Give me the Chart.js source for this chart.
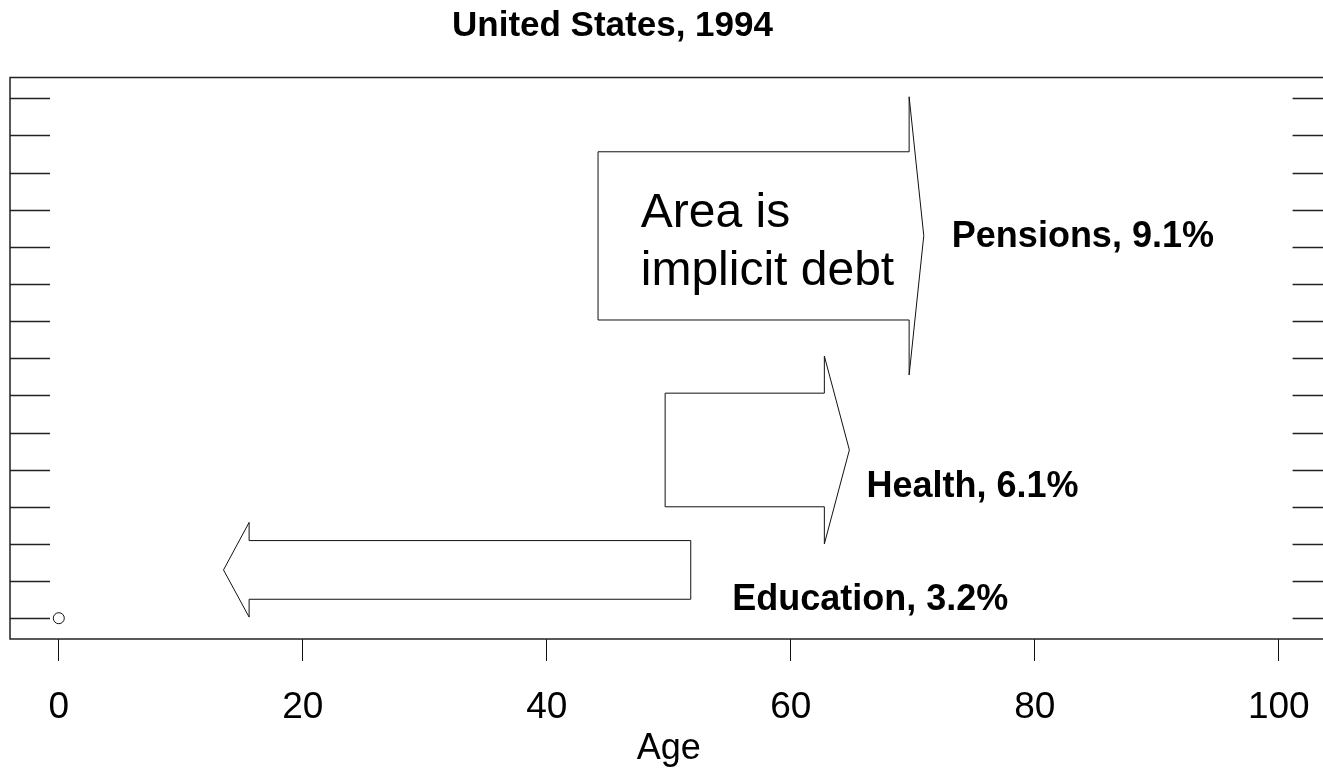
<!DOCTYPE html>
<html>
<head>
<meta charset="utf-8">
<script src="https://cdn.jsdelivr.net/npm/chart.js@4.4.1/dist/chart.umd.min.js"></script>
<style>
    html, body { margin: 0; padding: 0; background: #fff; overflow: hidden; }
    #wrap { width: 1340px; height: 772px; }
</style>
</head>
<body>
<div id="wrap"><canvas id="chart"></canvas></div>
<script>
// axis ticks
var ageTicks = [0, 20, 40, 60, 80, 100];
var rowTicks = [0, 1, 2, 3, 4, 5, 6, 7, 8, 9, 10, 11, 12, 13, 14];

// arrow outlines (age, row)
var pensionsX = [44.2, 69.7, 69.7, 70.9, 69.7, 69.7, 44.2, 44.2];
var pensionsY = [12.56, 12.56, 14.04, 10.3, 6.55, 8.03, 8.03, 12.56];
var healthX = [49.7, 62.75, 62.75, 64.8, 62.75, 62.75, 49.7, 49.7];
var healthY = [6.06, 6.06, 7.06, 4.53, 2.0, 3.0, 3.0, 6.06];
var educationX = [51.8, 15.6, 15.6, 13.5, 15.6, 15.6, 51.8, 51.8];
var educationY = [2.09, 2.09, 2.58, 1.3, 0.03, 0.51, 0.51, 2.09];

// the lone point
var pointX = [0];
var pointY = [0];

var labels = ['Pensions, 9.1%', 'Health, 6.1%', 'Education, 3.2%'];
var noteLines = ['Area is', 'implicit debt'];

var FONT = '"Liberation Sans", Arial, sans-serif';

function toPoints(xs, ys) {
    var pts = [];
    for (var i = 0; i < xs.length; i++) {
        pts.push({x: xs[i], y: ys[i]});
    }
    return pts;
}

function arrowSet(xs, ys) {
    return {
        data: toPoints(xs, ys),
        showLine: true,
        borderColor: '#111',
        borderWidth: 1,
        pointRadius: 0,
        fill: false,
        tension: 0
    };
}

// frame plus inward ticks on both sides
var framePlugin = {
    id: 'frame',
    beforeDatasetsDraw: function(chart) {
        var ctx = chart.ctx;
        var a = chart.chartArea;
        var ys = chart.scales.y;
        ctx.save();
        ctx.strokeStyle = '#222';
        ctx.lineWidth = 1.5;
        ctx.strokeRect(a.left, a.top, a.right - a.left, a.bottom - a.top);
        for (var i = 0; i < rowTicks.length; i++) {
            var py = Math.round(ys.getPixelForValue(rowTicks[i])) + 0.5;
            ctx.beginPath();
            ctx.moveTo(a.left, py);
            ctx.lineTo(a.left + 40, py);
            ctx.moveTo(a.right - 35, py);
            ctx.lineTo(a.right, py);
            ctx.stroke();
        }
        ctx.restore();
    }
};

// title and annotations
var textPlugin = {
    id: 'texts',
    afterDraw: function(chart) {
        var ctx = chart.ctx;
        var xs = chart.scales.x;
        var ys = chart.scales.y;
        ctx.save();
        ctx.fillStyle = '#000';
        ctx.textAlign = 'left';
        ctx.textBaseline = 'alphabetic';

        ctx.font = 'bold 35px ' + FONT;
        ctx.fillText('United States, 1994', 452, 36);

        ctx.font = 'bold 36px ' + FONT;
        ctx.fillText(labels[0], xs.getPixelForValue(73.2), ys.getPixelForValue(10.0));
        ctx.fillText(labels[1], xs.getPixelForValue(66.2), ys.getPixelForValue(3.27));
        ctx.fillText(labels[2], xs.getPixelForValue(55.2), ys.getPixelForValue(0.22));

        ctx.font = '48px ' + FONT;
        ctx.fillText(noteLines[0], xs.getPixelForValue(47.7), ys.getPixelForValue(10.53));
        ctx.fillText(noteLines[1], xs.getPixelForValue(47.7), ys.getPixelForValue(8.97));
        ctx.restore();
    }
};

var chart = new Chart(document.getElementById('chart'), {
    type: 'scatter',
    data: {
        datasets: [
            arrowSet(pensionsX, pensionsY),
            arrowSet(healthX, healthY),
            arrowSet(educationX, educationY),
            {
                data: toPoints(pointX, pointY),
                pointRadius: 5.5,
                pointBorderWidth: 1,
                pointBorderColor: '#111',
                pointBackgroundColor: '#fff',
                showLine: false
            }
        ]
    },
    options: {
        animation: false,
        responsive: true,
        maintainAspectRatio: false,
        layout: {
            padding: {left: 10, top: 77.5, right: 12.4, bottom: 0}
        },
        plugins: {
            legend: {display: false},
            tooltip: {enabled: false},
            title: {display: false}
        },
        scales: {
            x: {
                type: 'linear',
                position: 'bottom',
                min: -4,
                max: 104,
                afterBuildTicks: function(s) {
                    s.ticks = ageTicks.map(function(v) { return {value: v}; });
                },
                afterFit: function(s) { s.height = 133; },
                grid: {
                    drawOnChartArea: false,
                    drawTicks: true,
                    tickLength: 22,
                    color: '#111',
                    lineWidth: 1
                },
                border: {display: false},
                ticks: {
                    color: '#000',
                    padding: 25,
                    maxRotation: 0,
                    font: {family: FONT, size: 37}
                },
                title: {
                    display: true,
                    text: 'Age',
                    color: '#000',
                    padding: {top: 0, bottom: 1.4},
                    font: {family: FONT, size: 36}
                }
            },
            y: {
                type: 'linear',
                position: 'left',
                min: -0.56,
                max: 14.56,
                afterBuildTicks: function(s) {
                    s.ticks = rowTicks.map(function(v) { return {value: v}; });
                },
                afterFit: function(s) { s.width = 0; },
                grid: {display: false},
                border: {display: false},
                ticks: {display: false}
            }
        }
    },
    plugins: [framePlugin, textPlugin]
});
</script>
</body>
</html>
